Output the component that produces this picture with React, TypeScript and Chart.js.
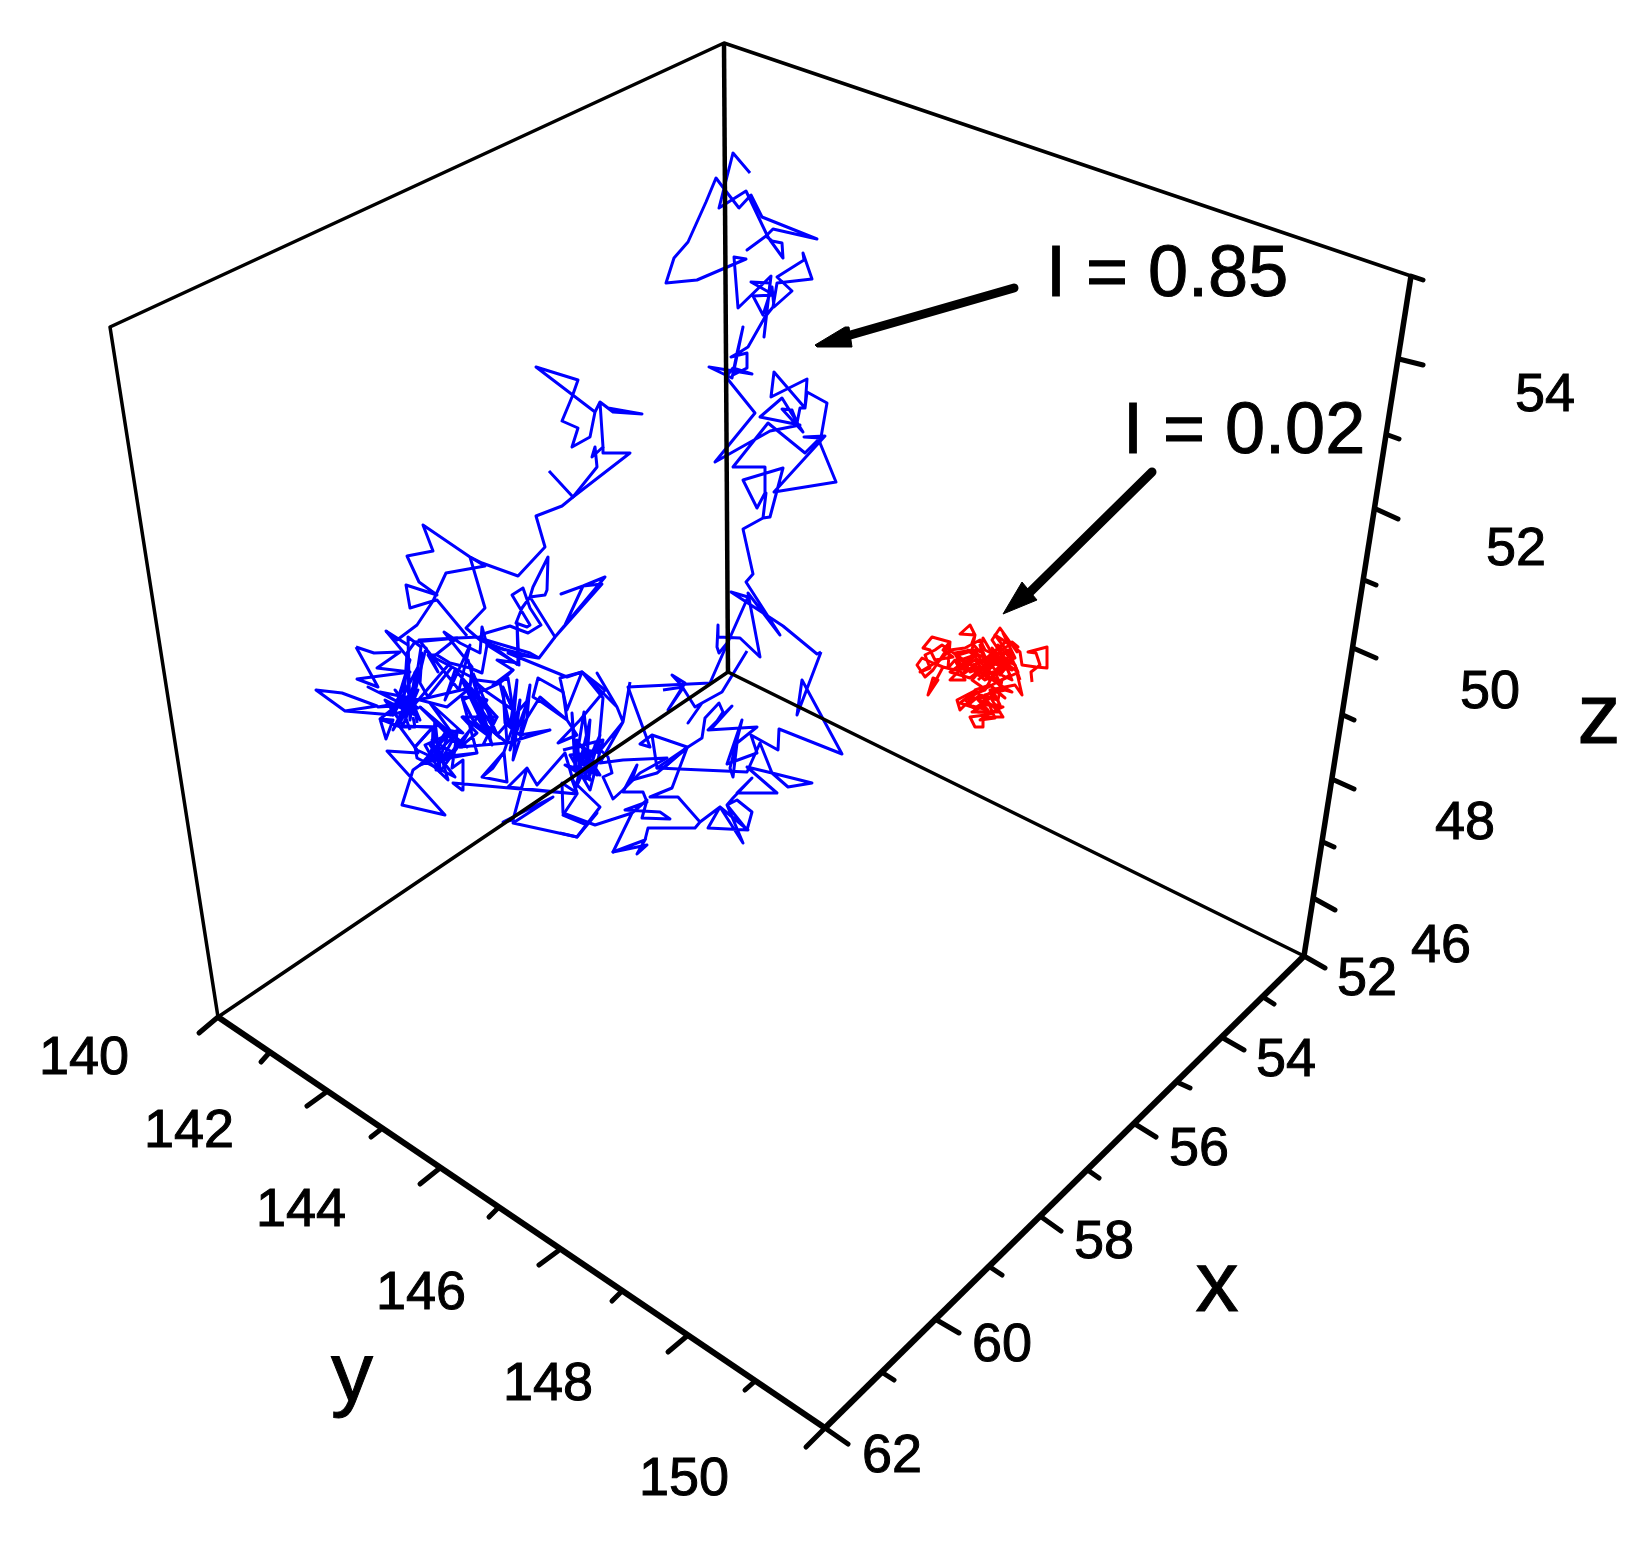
import React, { useEffect, useRef } from 'react';
import { Chart, registerables } from 'chart.js';

Chart.register(...registerables);

type Pt = [number, number];

const blueUpper: Pt[] = [
  [750,173],[733,153],[719,208],[746,191],[767,235],[770,240],[783,258],[782,243],[772,241],[766,236],[747,250],[766,236],
  [773,229],[817,239],[762,217],[751,195],[739,208],[725,190],[716,178],[706,202],[688,242],[674,258],[666,283],[697,280],
  [746,259],[734,257],[738,308],[771,276],[764,337],[770,283],[751,282],[774,295],[753,296],[763,315],[772,287],[774,307],
  [792,291],[777,277],[804,260],[803,253],[812,279],[777,283],[773,307],[765,317],[748,347],[740,352],[731,357],[747,353],
  [747,368],[733,375],[743,327],[737,353],[732,378],[709,367],[752,374],[733,368],[726,377],[755,413],
  [715,462],[770,431],[800,425],[760,417],[782,398],[803,432],[782,409],[792,410],[797,423],[800,408],[805,408],[774,372],
  [771,397],[807,379],[805,408],[807,392],[827,403],[820,443],[836,482],[774,492],[825,436],[804,437],[820,438],[805,453],
  [768,423],[733,467],[765,467],[765,493],[757,508],[743,480],[783,468],[770,517],[763,518],[766,493],[763,518],[743,529],
  [753,574],[746,582],[780,635],[748,593],[760,657],[740,638],[718,637],[718,625],[717,647],[719,653],[728,642],[748,597],
  [731,592],[783,626],[817,654],[821,652],
];
const blueRightLobe: Pt[] = [
  [821,652],[797,715],[802,680],[842,754],[779,729],[778,750],[751,735],[757,753],[727,764],[742,720],[730,768],[733,777],
  [737,743],[757,727],[708,730],[732,706],[713,727],[723,712],[719,703],[705,718],[702,738],[688,747],[657,768],[747,772],
  [760,743],[772,773],[812,783],[788,787],[772,773],[747,767],[777,793],[737,793],[752,778],[733,798],[727,805],[747,830],
  [752,812],[737,800],[727,805],[743,843],[720,807],[708,828],[748,830],[720,807],[700,822],[695,828],[648,828],[645,840],
  [613,852],[647,845],[637,854],[646,838],
];
const blueLink: Pt[] = [
  [747,651],[722,692],[702,703],[688,723],[702,703],[695,707],[683,688],[668,710],[685,683],[672,675],[683,687],[663,690],
];
const blueCentreTop: Pt[] = [
  [728,642],[710,683],[628,687],[650,747],[640,744],[652,735],[687,747],[665,767],[657,768],[652,735],
];
const blueCentre: Pt[] = [
  [700,822],[678,797],[650,797],[672,788],[687,748],[657,773],[632,780],[637,765],[623,792],[643,792],[647,802],[625,810],
  [660,812],[670,819],[642,818],[647,800],[632,813],[613,852],[632,813],[595,825],[587,822],[563,813],[562,783],[577,793],
  [572,780],[600,807],[577,837],[560,833],
];
const blueCentreLeft: Pt[] = [
  [630,682],[623,722],[617,707],[597,673],[617,707],[582,672],[560,678],[567,710],[582,672],[603,698],[598,753],[623,722],
  [600,763],[623,760],[667,758],[640,773],[623,790],[613,799],[603,777],[612,773],[608,757],[595,745],[590,775],[578,755],
  [597,775],[583,745],[590,780],[565,765],[600,775],[577,740],[580,770],[600,760],[585,780],[590,720],[577,775],[572,713],
  [575,768],[584,712],[590,770],[600,735],[575,790],[585,750],[597,752],[570,755],[590,790],[603,740],[563,750],
];
const blueMiddle: Pt[] = [
  [527,768],[513,820],[503,822],[553,797],[513,823],[577,837],[597,813],[587,825],[563,815],[577,794],[565,753],[537,785],
  [527,768],[508,787],[577,794],[453,783],[462,790],[463,760],[452,768],[457,733],[427,762],[477,753],[432,758],[433,727],
  [448,780],[427,760],[413,770],[402,805],[445,815],[387,751],[418,753],[415,747],[433,727],[398,726],
];
const blueMiddle2: Pt[] = [
  [482,777],[507,782],[504,752],[493,768],[482,777],[504,752],[507,743],[483,745],[460,747],[477,733],[462,717],[497,717],
  [483,745],[507,743],[550,730],[520,735],[527,718],[530,685],[520,735],[505,723],[503,688],[513,710],[508,678],[493,685],
  [513,670],[497,660],[518,663],[517,622],[519,665],[487,645],[538,658],[508,653],[567,677],[582,672],[605,690],[580,720],
  [558,743],[577,735],[567,720],[543,703],[533,697],[538,678],[563,692],[567,720],[540,697],[527,718],[513,760],[520,700],
  [510,750],[528,700],[497,735],[487,710],[477,698],[462,697],[477,753],
];
const blueLeft: Pt[] = [
  [316,690],[342,693],[377,706],[345,711],[316,690],[345,711],[393,715],[400,703],[368,687],[400,703],[380,692],[420,700],
  [447,707],[470,688],[427,698],[378,707],[410,705],[398,726],[380,719],[386,739],[393,720],[380,719],[410,695],[393,730],
  [418,690],[403,725],[385,700],[415,715],[395,690],[420,720],[405,685],[390,715],[418,708],[398,695],[410,730],
];
const blueLeftTop: Pt[] = [
  [356,647],[378,687],[357,679],[410,672],[377,668],[400,652],[374,653],[356,647],
];
const blueLeftMid: Pt[] = [
  [386,631],[410,660],[393,715],[418,667],[410,720],[408,637],[421,647],[413,700],[426,648],[438,672],[428,655],[437,655],
  [450,663],[408,712],[450,663],[470,668],[482,673],[487,645],[482,627],[480,653],[460,643],[444,632],[460,652],[472,667],
  [470,688],[481,715],[488,735],[462,680],[474,700],[492,745],[468,660],[480,700],[497,717],[455,670],[445,700],[470,645],
  [459,690],[419,640],[457,638],[480,637],[486,633],[510,626],[520,630],[528,633],[541,625],[530,608],[523,588],[512,595],
  [530,625],[527,627],[516,623],[522,608],[530,597],[545,595],[547,590],[548,557],[533,587],[530,597],[555,637],
];
const blueLeftExtra: Pt[] = [
  [407,653],[415,642],[457,638],[433,657],[452,667],[477,680],[500,683],[513,670],[500,683],[477,680],[452,667],[428,697],
  [420,683],[422,653],[420,683],[415,672],[410,713],[407,653],[403,713],[413,687],[417,723],
];
const blueLeftExtra2: Pt[] = [
  [473,673],[493,720],[490,737],[473,680],[487,692],[513,710],[503,687],[507,743],[513,727],[517,680],[510,727],[500,683],
  [463,700],[473,720],[487,733],[463,717],[490,737],[477,717],[497,735],
];
const blueLeftExtra3: Pt[] = [
  [420,707],[457,740],[462,747],[430,703],[463,733],[447,730],[427,760],[433,747],[435,720],[432,757],[417,750],[400,727],
  [415,727],[413,717],
];
const blueBranch: Pt[] = [
  [555,637],[539,658],[530,653],[486,640],[480,637],[518,665],
];
const blueUpperLeft: Pt[] = [
  [555,637],[602,584],[583,586],[561,594],[583,586],[565,625],[555,637],[605,577],[583,586],
];
const blueLower: Pt[] = [
  [467,636],[437,600],[433,601],[410,608],[406,585],[437,595],[419,582],[407,556],[433,551],[423,525],[470,557],[485,566],
  [446,573],[433,601],[417,625],[397,640],[386,631],[408,645],
];
const blueStem: Pt[] = [
  [470,557],[485,608],[466,628],[480,640],[505,650],
];
const blueTail: Pt[] = [
  [470,557],[482,563],[518,576],[545,547],[536,516],[562,506],[573,497],[597,467],[595,447],[592,457],[603,447],[600,402],
  [613,412],[642,414],[608,408],[600,402],[595,412],[590,437],[572,447],[578,428],[562,421],[572,397],[578,380],[536,367],
  [595,412],
];
const blueTail2: Pt[] = [
  [549,471],[573,497],[630,453],[603,453],[603,447],
];
const blueLeftLow: Pt[] = [
  [398,726],[433,727],[415,747],[417,758],[455,777],[430,745],[445,760],[470,730],[440,772],[425,745],[458,730],[436,770],
  [448,735],[420,765],[452,752],[432,740],[440,768],
  [435,720],[467,747],[420,707],[460,747],[487,700],[472,695],[500,738],[480,720],[507,743],
];

const redTrace: Pt[] = [
  [1032,682],[1031,672],[1040,665],[1036,653],[1028,652],[1047,647],[1047,668],[1036,667],[1022,665],[1020,652],[1015,648],
  [1018,647],[1012,642],[1017,652],[1000,628],[992,640],[1002,655],[990,650],[983,638],[980,652],[972,643],[975,635],[970,625],
  [960,634],[975,635],[972,650],[955,653],[962,668],[975,660],[985,672],[992,655],[1005,668],[998,645],[1012,660],[1000,675],
  [988,662],[978,675],[968,660],[958,672],[950,680],[965,680],[955,660],[948,668],[950,642],[932,637],[923,648],[930,650],
  [935,660],[953,657],[943,650],[950,642],[945,652],[933,670],[925,677],[917,665],[922,658],[933,663],[943,667],[928,695],
  [938,680],[933,678],[928,695],[943,667],[955,670],[975,668],[990,680],[980,645],[990,668],[1008,650],[1018,672],[1004,662],
  [1012,680],[995,672],[1003,690],[985,665],[972,680],[982,687],[957,700],[960,710],[973,697],[990,705],[1003,707],[985,715],
  [970,717],[975,727],[983,727],[983,717],[1003,717],[992,700],[990,690],[1015,685],[1022,695],[1017,673],[1002,680],[998,700],
  [980,695],[968,705],[988,710],[978,700],[995,690],[1005,698],[990,685],[975,690],[985,700],[1000,712],[978,712],[965,700],
  [1010,675],[1003,660],[970,672],[958,655],[975,650],[982,662],[996,650],[1008,640],[1003,633],[1015,658],[995,664],[978,680],
];
const redDense: Pt[] = [
  [955,662],[975,655],[962,675],[985,658],[968,650],[990,672],[972,665],[1000,658],[982,675],[1008,668],[992,648],[1002,672],
  [985,680],[975,672],[995,660],[978,655],[960,665],[950,672],[970,678],[990,662],[1012,670],[1000,650],[1010,645],[1003,640],
  [995,635],[1010,655],[996,670],[985,690],[970,695],[960,703],[975,708],[995,695],[1000,705],[985,705],[972,712],[992,712],
  [980,720],[995,718],[985,695],[1005,690],[1012,692],[1000,685],[942,645],[935,650],[925,655],[930,668],[920,672],[940,660],
  [950,650],[965,648],[980,640],[985,650],[1015,665],[1020,680],
];

const frameThin: Pt[][] = [
  [[218,1017],[110,327],[724,43],[1411,276]],
  [[218,1017],[728,672],[1304,956]],
];
const backEdge: Pt[] = [[724,43],[728,672]];
const yAxisLine: Pt[] = [[218,1017],[825,1428]];
const xAxisLine: Pt[] = [[1304,956],[825,1428]];
const zAxisLine: Pt[] = [[1411,276],[1304,956]];

const yTicks: Pt[][] = [
  [[218,1017],[199,1033]],[[269,1053],[261,1062]],[[325,1093],[307,1106]],[[380,1130],[371,1137]],
  [[440,1168],[420,1184]],[[498,1208],[489,1217]],[[558,1251],[539,1265]],[[621,1292],[612,1301]],
  [[687,1336],[668,1352]],[[754,1382],[745,1390]],[[825,1428],[806,1447]],
];
const xTicks: Pt[][] = [
  [[1304,956],[1325,968]],[[1263,997],[1274,1004]],[[1223,1038],[1244,1050]],[[1179,1083],[1190,1088]],
  [[1135,1124],[1156,1137]],[[1089,1171],[1099,1178]],[[1040,1216],[1061,1231]],[[990,1267],[1002,1275]],
  [[935,1319],[959,1333]],[[883,1373],[894,1380]],[[825,1428],[848,1444]],
];
const zTicks: Pt[][] = [
  [[1411,276],[1423,280]],[[1399,359],[1423,365]],[[1388,435],[1399,439]],[[1376,509],[1398,519]],
  [[1364,580],[1376,585]],[[1353,648],[1376,658]],[[1343,715],[1354,720]],[[1334,780],[1354,789]],
  [[1323,842],[1334,847]],[[1315,899],[1335,910]],
];

const arrowHighShaft: Pt[] = [[1014,288],[840,338]];
const arrowHighHead: Pt[] = [[815,345],[845,327],[849,327],[852,347],[817,347],[815,345]];
const arrowLowShaft: Pt[] = [[1152,472],[1022,600]];
const arrowLowHead: Pt[] = [[1003,614],[1022,582],[1037,600],[1003,614]];

const yTickLabels = ['140', '142', '144', '146', '148', '150'];
const xTickLabels = ['52', '54', '56', '58', '60', '62'];
const zTickLabels = ['54', '52', '50', '48', '46'];
const yLabelSpots: Pt[] = [[84,1074],[189,1147],[301,1226],[421,1309],[548,1400],[684,1495]];
const xLabelSpots: Pt[] = [[1367,995],[1286,1076],[1199,1165],[1104,1258],[1002,1361],[892,1472]];
const zLabelSpots: Pt[] = [[1545,411],[1516,565],[1490,708],[1465,839],[1441,962]];

const line = (points: Pt[], color: string, width: number, cap: CanvasLineCap = 'butt') => ({
  data: points.map(([x, y]) => ({ x, y })),
  showLine: true,
  borderColor: color,
  backgroundColor: color,
  borderWidth: width,
  borderCapStyle: cap,
  borderJoinStyle: 'round',
  pointRadius: 0,
  tension: 0,
  fill: false,
});

const head = (points: Pt[]) => ({
  ...line(points, '#000000', 1),
  fill: 'shape',
});

const textLayer = {
  id: 'textLayer',
  afterDatasetsDraw(chart: Chart) {
    const { ctx, scales } = chart;
    const put = (text: string, [x, y]: Pt, size: number, align: CanvasTextAlign = 'center') => {
      const px = scales.x.getPixelForValue(x);
      const py = scales.y.getPixelForValue(y);
      ctx.font = `${size}px "Liberation Sans", Arial, sans-serif`;
      ctx.textAlign = align;
      ctx.textBaseline = 'alphabetic';
      ctx.fillStyle = '#000000';
      ctx.strokeStyle = '#000000';
      ctx.lineWidth = 1;
      ctx.fillText(text, px, py);
      ctx.strokeText(text, px, py);
    };
    ctx.save();
    yTickLabels.forEach((t, i) => put(t, yLabelSpots[i], 54));
    xTickLabels.forEach((t, i) => put(t, xLabelSpots[i], 54));
    zTickLabels.forEach((t, i) => put(t, zLabelSpots[i], 54));
    put('x', [1217, 1311], 86);
    put('y', [352, 1401], 84);
    put('z', [1599, 743], 86);
    put('I = 0.85', [1046, 296], 72, 'left');
    put('I = 0.02', [1123, 453], 72, 'left');
    ctx.restore();
  },
};

const blueTraces = [
  blueUpper, blueRightLobe, blueLink, blueCentreTop, blueCentre, blueCentreLeft, blueMiddle, blueMiddle2, blueLeft,
  blueLeftTop, blueLeftMid, blueLeftExtra, blueLeftExtra2, blueLeftExtra3, blueBranch, blueUpperLeft, blueLower,
  blueStem, blueTail, blueTail2, blueLeftLow,
];

export default function App() {
  const canvasRef = useRef<HTMLCanvasElement>(null);

  useEffect(() => {
    if (!canvasRef.current) return;
    const chart = new Chart(canvasRef.current, {
      type: 'scatter',
      data: {
        datasets: [
          ...frameThin.map((p) => line(p, '#000000', 3.5)),
          line(backEdge, '#000000', 4.5),
          line(yAxisLine, '#000000', 6),
          line(xAxisLine, '#000000', 6),
          line(zAxisLine, '#000000', 5.5),
          ...yTicks.map((p) => line(p, '#000000', 5, 'round')),
          ...xTicks.map((p) => line(p, '#000000', 5, 'round')),
          ...zTicks.map((p) => line(p, '#000000', 5, 'round')),
          ...blueTraces.map((p) => line(p, '#0000ff', 3)),
          line(redTrace, '#ff0000', 3),
          line(redDense, '#ff0000', 3),
          line(arrowHighShaft, '#000000', 9, 'round'),
          head(arrowHighHead),
          line(arrowLowShaft, '#000000', 9, 'round'),
          head(arrowLowHead),
        ] as any,
      },
      options: {
        animation: false,
        responsive: false,
        devicePixelRatio: 1,
        layout: { padding: 0 },
        plugins: { legend: { display: false }, tooltip: { enabled: false } },
        scales: {
          x: { type: 'linear', min: 0, max: 1650, display: false },
          y: { type: 'linear', min: 0, max: 1544, reverse: true, display: false },
        },
      },
      plugins: [textLayer],
    });
    return () => chart.destroy();
  }, []);

  return (
    <div style={{ position: 'absolute', left: 0, top: 0, width: 1650, height: 1544, background: '#ffffff' }}>
      <canvas ref={canvasRef} width={1650} height={1544} style={{ display: 'block' }} />
    </div>
  );
}
